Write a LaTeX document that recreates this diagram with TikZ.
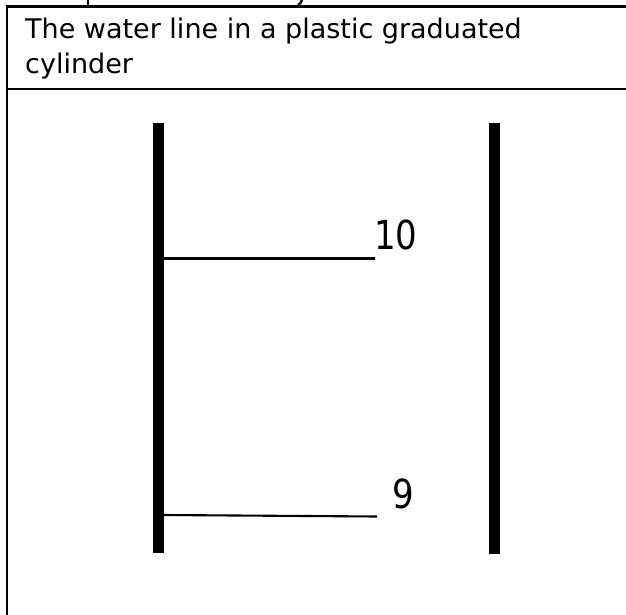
\documentclass[tikz,border=0pt]{standalone}
\usepackage{fontspec}
\setmainfont{DejaVu Sans}
\begin{document}
\begin{tikzpicture}[x=1pt,y=-1pt,
  rule/.style={line width=2.2pt},
  bar/.style={fill=black},
  tick/.style={line width=2.1pt},
  title/.style={anchor=base west,inner sep=0pt,font=\fontsize{27}{32}\selectfont},
  num/.style={anchor=base west,inner sep=0pt,font=\fontsize{40}{46}\selectfont}]
\useasboundingbox (0,0) rectangle (626,615);
% table borders
\coordinate (tl) at (7,6.5);
\coordinate (tr) at (626,6.5);
\coordinate (ml) at (7,89);
\coordinate (mr) at (626,89);
\coordinate (bl) at (7,615);
\draw[rule] (tl) -- (tr);
\draw[rule] (ml) -- (mr);
\draw[rule] (7,5.4) -- (bl);
% clipped descenders of text above
\draw[line width=2.4pt] (88,0) -- (88,5);
\draw[line width=2.4pt] (302,0) .. controls (301.5,2) and (300,4) .. (298,5);
% title
\node[title] (t1) at (25,39) {The water line in a plastic graduated};
\node[title] (t2) at (25,74) {cylinder};
% cylinder walls
\fill[bar] (153,123) rectangle (164,553);
\fill[bar] (489,123) rectangle (500,554);
\coordinate (l10) at (164,258.5);
\coordinate (r10) at (375,258.5);
\coordinate (l9) at (164,515);
\coordinate (r9) at (377,516.5);
\draw[tick] (l10) -- (r10);
\draw[tick] (l9) -- (r9);
\node[num] (n10) at (374,249) {\scalebox{0.85}[1]{10}};
\node[num] (n9) at (392,508) {\scalebox{0.85}[1]{9}};
\end{tikzpicture}
\end{document}
